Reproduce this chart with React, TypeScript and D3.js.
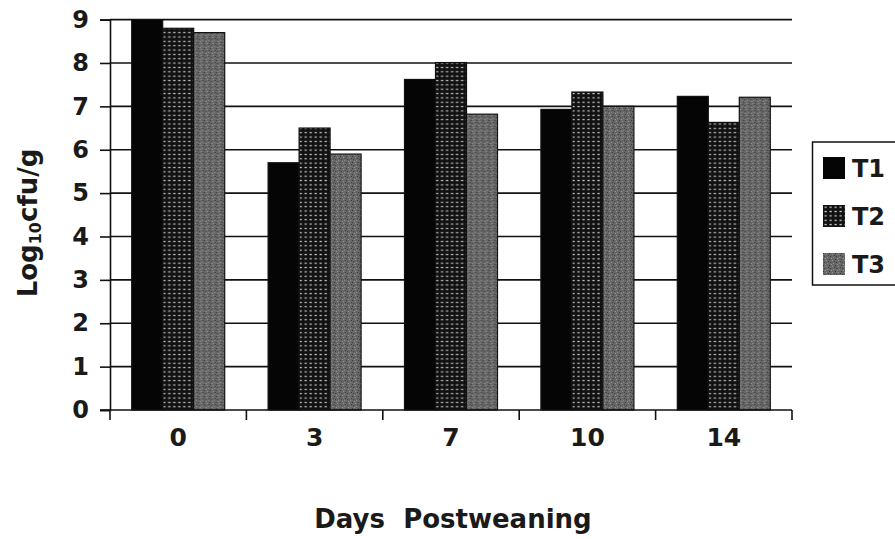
import { useEffect, useRef } from "react";
import * as d3 from "d3";

const days = ["0", "3", "7", "10", "14"];
const seriesNames = ["T1", "T2", "T3"];
const t1Values = [9.0, 5.7, 7.62, 6.93, 7.23];
const t2Values = [8.8, 6.5, 8.01, 7.33, 6.63];
const t3Values = [8.7, 5.9, 6.82, 7.0, 7.21];
const yTicks = [0, 1, 2, 3, 4, 5, 6, 7, 8, 9];

const FONT = "'DejaVu Sans', Verdana, sans-serif";

export default function App() {
  const ref = useRef<SVGSVGElement>(null);

  useEffect(() => {
    const svg = d3.select(ref.current);
    svg.selectAll("*").remove();

    const MARGIN = { TOP: 19.6, LEFT: 110, RIGHT: 792, BOTTOM: 410 };
    const series = [t1Values, t2Values, t3Values];

    // fill patterns that mimic the scanned print
    const defs = svg.append("defs");
    const dots = defs.append("pattern")
      .attr("id", "dots")
      .attr("patternUnits", "userSpaceOnUse")
      .attr("width", 5)
      .attr("height", 4.35);
    dots.append("rect").attr("width", 5).attr("height", 4.35).attr("fill", "#111");
    dots.append("rect").attr("x", 1.5).attr("y", 1.6).attr("width", 2.2).attr("height", 1.2).attr("fill", "#d0d0d0");

    const grain = defs.append("pattern")
      .attr("id", "grain")
      .attr("patternUnits", "userSpaceOnUse")
      .attr("width", 6)
      .attr("height", 6);
    grain.append("rect").attr("width", 6).attr("height", 6).attr("fill", "#676767");
    [[0, 0, "#363636"], [3, 1, "#959595"], [1, 3, "#404040"], [4, 4, "#8e8e8e"], [5, 2, "#3c3c3c"], [2, 5, "#999"]]
      .forEach(([x, y, c]) => {
        grain.append("rect").attr("x", x).attr("y", y).attr("width", 1).attr("height", 1).attr("fill", c as string);
      });
    const fills = ["#050505", "url(#dots)", "url(#grain)"];

    const yScale = d3.scaleLinear().domain([0, 9]).range([MARGIN.BOTTOM, MARGIN.TOP]);
    const x0 = d3.scaleBand().domain(days).range([MARGIN.LEFT, MARGIN.RIGHT]).padding(0);
    const groupW = 93;
    const x1 = d3.scaleBand().domain(seriesNames).range([0, groupW]).padding(0);

    // gridlines
    svg.append("g")
      .selectAll("line")
      .data(yTicks.filter(d => d > 0))
      .join("line")
      .attr("x1", MARGIN.LEFT)
      .attr("x2", MARGIN.RIGHT)
      .attr("y1", d => yScale(d))
      .attr("y2", d => yScale(d))
      .attr("stroke", "#111")
      .attr("stroke-width", 1.6);

    // bars
    const groups = svg.append("g")
      .selectAll("g")
      .data(days)
      .join("g")
      .attr("transform", d => `translate(${x0(d)! + (x0.bandwidth() - groupW) / 2},0)`);

    groups.selectAll("rect")
      .data((_, i) => seriesNames.map((s, j) => ({ s, j, v: series[j][i] })))
      .join("rect")
      .attr("x", d => x1(d.s)!)
      .attr("width", x1.bandwidth())
      .attr("y", d => yScale(d.v))
      .attr("height", d => yScale(0) - yScale(d.v))
      .attr("fill", d => fills[d.j])
      .attr("stroke", "#111")
      .attr("stroke-width", 1.2);

    // y axis
    const yAxis = d3.axisLeft(yScale).tickValues(yTicks).tickSize(10).tickPadding(11).tickFormat(d3.format("d"));
    const yg = svg.append("g").attr("transform", `translate(${MARGIN.LEFT},0)`).call(yAxis);
    yg.select(".domain").attr("stroke", "#111").attr("stroke-width", 1.6);
    yg.selectAll(".tick line").attr("stroke", "#111").attr("stroke-width", 1.6);
    yg.selectAll(".tick text")
      .attr("font-family", FONT)
      .attr("font-weight", "bold")
      .attr("font-size", 24)
      .attr("fill", "#1a1a1a");

    // x axis: ticks on category boundaries
    const xg = svg.append("g").attr("transform", `translate(0,${MARGIN.BOTTOM})`);
    xg.append("line")
      .attr("x1", MARGIN.LEFT - 10)
      .attr("x2", MARGIN.RIGHT)
      .attr("stroke", "#111")
      .attr("stroke-width", 1.6);
    const boundaries = days.map(d => x0(d)!).concat([MARGIN.RIGHT]);
    xg.selectAll("line.tk")
      .data(boundaries)
      .join("line")
      .attr("class", "tk")
      .attr("x1", d => d)
      .attr("x2", d => d)
      .attr("y1", 0)
      .attr("y2", 10)
      .attr("stroke", "#111")
      .attr("stroke-width", 1.6);
    xg.selectAll("text")
      .data(days)
      .join("text")
      .attr("x", d => x0(d)! + x0.bandwidth() / 2)
      .attr("y", 36)
      .attr("text-anchor", "middle")
      .attr("font-family", FONT)
      .attr("font-weight", "bold")
      .attr("font-size", 25)
      .attr("fill", "#1a1a1a")
      .text(d => d);

    // axis titles
    svg.append("text")
      .attr("x", 453)
      .attr("y", 528)
      .attr("text-anchor", "middle")
      .attr("font-family", FONT)
      .attr("font-weight", "bold")
      .attr("font-size", 26)
      .attr("fill", "#1a1a1a")
      .attr("xml:space", "preserve")
      .style("white-space", "pre")
      .text("Days  Postweaning");

    const yt = svg.append("text")
      .attr("transform", "translate(37,223) rotate(-90)")
      .attr("text-anchor", "middle")
      .attr("font-family", FONT)
      .attr("font-weight", "bold")
      .attr("font-size", 26)
      .attr("fill", "#1a1a1a");
    yt.append("tspan").text("Log");
    yt.append("tspan").attr("font-size", 16).attr("dy", 4).text("10");
    yt.append("tspan").attr("dy", -4).text("cfu/g");

    // legend
    const lg = svg.append("g");
    lg.append("rect")
      .attr("x", 812.5)
      .attr("y", 142)
      .attr("width", 100)
      .attr("height", 143)
      .attr("fill", "white")
      .attr("stroke", "#111")
      .attr("stroke-width", 1.5);
    const items = lg.selectAll("g")
      .data(seriesNames)
      .join("g")
      .attr("transform", (_, i) => `translate(823,${157 + i * 48})`);
    items.append("rect")
      .attr("width", 22)
      .attr("height", 22)
      .attr("fill", (_, i) => fills[i]);
    items.append("text")
      .attr("x", 29)
      .attr("y", 20)
      .attr("font-family", FONT)
      .attr("font-weight", "bold")
      .attr("font-size", 24)
      .attr("fill", "#1a1a1a")
      .text(d => d);
  }, []);

  return (
    <div style={{ position: "absolute", left: 0, top: 0 }}>
      <svg ref={ref} width={895} height={539} style={{ display: "block", background: "white" }} />
    </div>
  );
}
